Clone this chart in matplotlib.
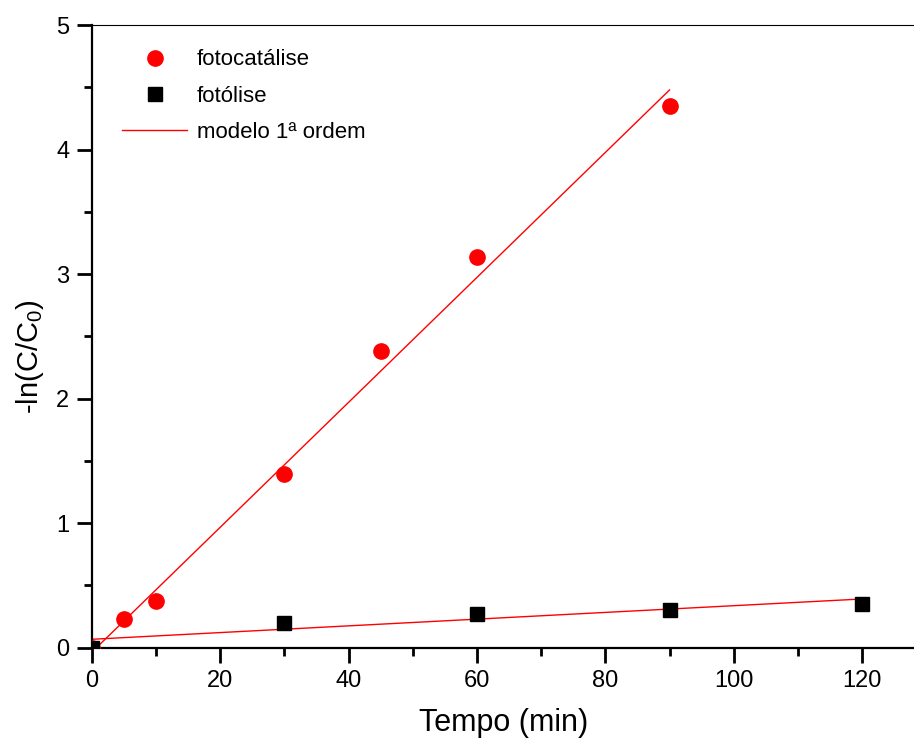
import matplotlib
matplotlib.use("Agg")
import matplotlib.pyplot as plt
import numpy as np
from matplotlib.ticker import MultipleLocator

plt.rcParams['font.family'] = ['Liberation Sans', 'DejaVu Sans']
plt.rcParams['mathtext.default'] = 'regular'

# data
t_cat = [0, 5, 10, 30, 45, 60, 90]
y_cat = [0.0, 0.23, 0.37, 1.39, 2.38, 3.14, 4.35]
t_fot = [0, 30, 60, 90, 120]
y_fot = [0.0, 0.20, 0.27, 0.30, 0.35]
# first-order model fits (slope, intercept, x-range)
fit_cat = (0.0502, -0.039, 0, 90)
fit_fot = (0.0027, 0.066, 0, 120)

fig = plt.figure(figsize=(9.14, 7.38), dpi=100)
ax = fig.add_axes([0.1003, 0.1226, 0.902, 0.966 - 0.1226])

ax.plot(t_cat, y_cat, 'o', color='#ff0000', markersize=11, label='fotocatálise', zorder=3)
ax.plot(t_fot, y_fot, 's', color='black', markersize=9.5, label='fotólise', zorder=4)
for k, b, x0, x1 in (fit_cat, fit_fot):
    xs = np.array([x0, x1])
    ax.plot(xs, k * xs + b, '-', color='#ff0000', lw=1.0, zorder=2)
ax.plot([], [], '-', color='#ff0000', lw=1.0, label='modelo 1ª ordem')

ax.set_xlim(0, 128.4)
ax.set_ylim(0, 5)
ax.xaxis.set_major_locator(MultipleLocator(20))
ax.xaxis.set_minor_locator(MultipleLocator(10))
ax.yaxis.set_major_locator(MultipleLocator(1))
ax.yaxis.set_minor_locator(MultipleLocator(0.5))
ax.tick_params(which='major', length=11, width=2, direction='out', labelsize=17, pad=5)
ax.tick_params(which='minor', length=6, width=2, direction='out')
ax.spines['left'].set_linewidth(1.6)
ax.spines['bottom'].set_linewidth(1.6)
ax.spines['top'].set_linewidth(0.8)
ax.spines['right'].set_visible(False)

ax.set_xlabel('Tempo (min)', fontsize=22, labelpad=12)
ax.set_ylabel('-ln(C/C$_0$)', fontsize=21)
ax.yaxis.set_label_coords(-0.056, 0.468)

leg = ax.legend(loc='upper left', bbox_to_anchor=(0.0368, 0.961), frameon=False, fontsize=16,
                handlelength=2.93, handletextpad=0.45, labelspacing=0.69,
                borderaxespad=0.0, borderpad=0.0)

fig.savefig('out.png', dpi=100)
